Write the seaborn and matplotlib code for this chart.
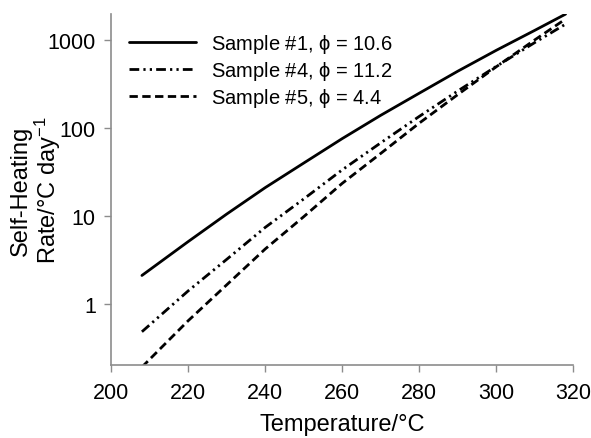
#!/usr/bin/env python3

import matplotlib
matplotlib.use("Agg")
import matplotlib.pyplot as plt
import numpy as np
import pandas as pd
import seaborn as sns
from matplotlib.ticker import FixedLocator, NullLocator

# values
temperature = [208, 220, 230, 240, 250, 260, 270, 280, 290, 300, 310, 318]
sample1 = [2.1, 5.1, 10.5, 21, 40, 76, 140, 250, 445, 770, 1300, 1990]
sample4 = [0.48, 1.4, 3.2, 7.4, 15.6, 33.5, 68, 136, 265, 505, 944, 1530]
sample5 = [0.19, 0.64, 1.64, 4.2, 9.8, 23.5, 51.5, 114, 241, 500, 1012, 1750]

labels = [r"Sample #1, $\phi$ = 10.6",
          r"Sample #4, $\phi$ = 11.2",
          r"Sample #5, $\phi$ = 4.4"]

x_ticks = [200, 220, 240, 260, 280, 300, 320]
y_ticks = [1, 10, 100, 1000]
y_ticklabels = ["1", "10", "100", "1000"]

sns.set_style("white")
plt.rcParams["font.family"] = ["Liberation Sans", "DejaVu Sans"]
plt.rcParams["mathtext.fontset"] = "custom"
plt.rcParams["mathtext.rm"] = "Liberation Sans"
plt.rcParams["mathtext.it"] = "Liberation Sans"
plt.rcParams["text.color"] = "black"
plt.rcParams["axes.labelcolor"] = "black"
plt.rcParams["xtick.labelcolor"] = "black"
plt.rcParams["ytick.labelcolor"] = "black"

df = pd.DataFrame({"T": temperature, "s1": sample1, "s4": sample4, "s5": sample5})

fig, ax = plt.subplots(figsize=(5.91, 4.39), dpi=100)
fig.subplots_adjust(left=0.188, right=0.97, bottom=0.166, top=0.966)

styles = ["-", (0, (3.5, 1.5, 0.8, 1.5, 0.8, 1.5)), (0, (3.0, 1.6))]
for col, lab, ls in zip(["s1", "s4", "s5"], labels, styles):
    sns.lineplot(data=df, x="T", y=col, ax=ax, color="black", lw=2.0,
                 linestyle=ls, label=lab)

ax.set_yscale("log")
ax.set_xlim(200, 320)
ax.set_ylim(0.2, 2000)
ax.xaxis.set_major_locator(FixedLocator(x_ticks))
ax.set_xticklabels([str(v) for v in x_ticks])
ax.yaxis.set_major_locator(FixedLocator(y_ticks))
ax.yaxis.set_minor_locator(NullLocator())
ax.set_yticklabels(y_ticklabels)

ax.tick_params(axis="both", direction="out", length=5, width=1, color="#8c8c8c",
               labelsize=15.5, labelcolor="black", pad=6, bottom=True, left=True)
ax.tick_params(axis="x", pad=7)
for side in ["top", "right"]:
    ax.spines[side].set_visible(False)
for side in ["left", "bottom"]:
    ax.spines[side].set_color("#8c8c8c")
    ax.spines[side].set_linewidth(1.2)

ax.set_xlabel("Temperature/°C", fontsize=17, labelpad=7, color="black")
ax.set_ylabel("Self-Heating\nRate/°C day$^{-1}$", fontsize=17,
              linespacing=1.0, color="black")
ax.yaxis.set_label_coords(-0.105, 0.5)

leg = ax.legend(loc="upper left", bbox_to_anchor=(0.0, 1.0), frameon=False,
                fontsize=14.5, handlelength=3.3, handletextpad=0.75,
                labelspacing=0.2)
for t in leg.get_texts():
    t.set_color("black")

fig.savefig("out.png", dpi=100)
